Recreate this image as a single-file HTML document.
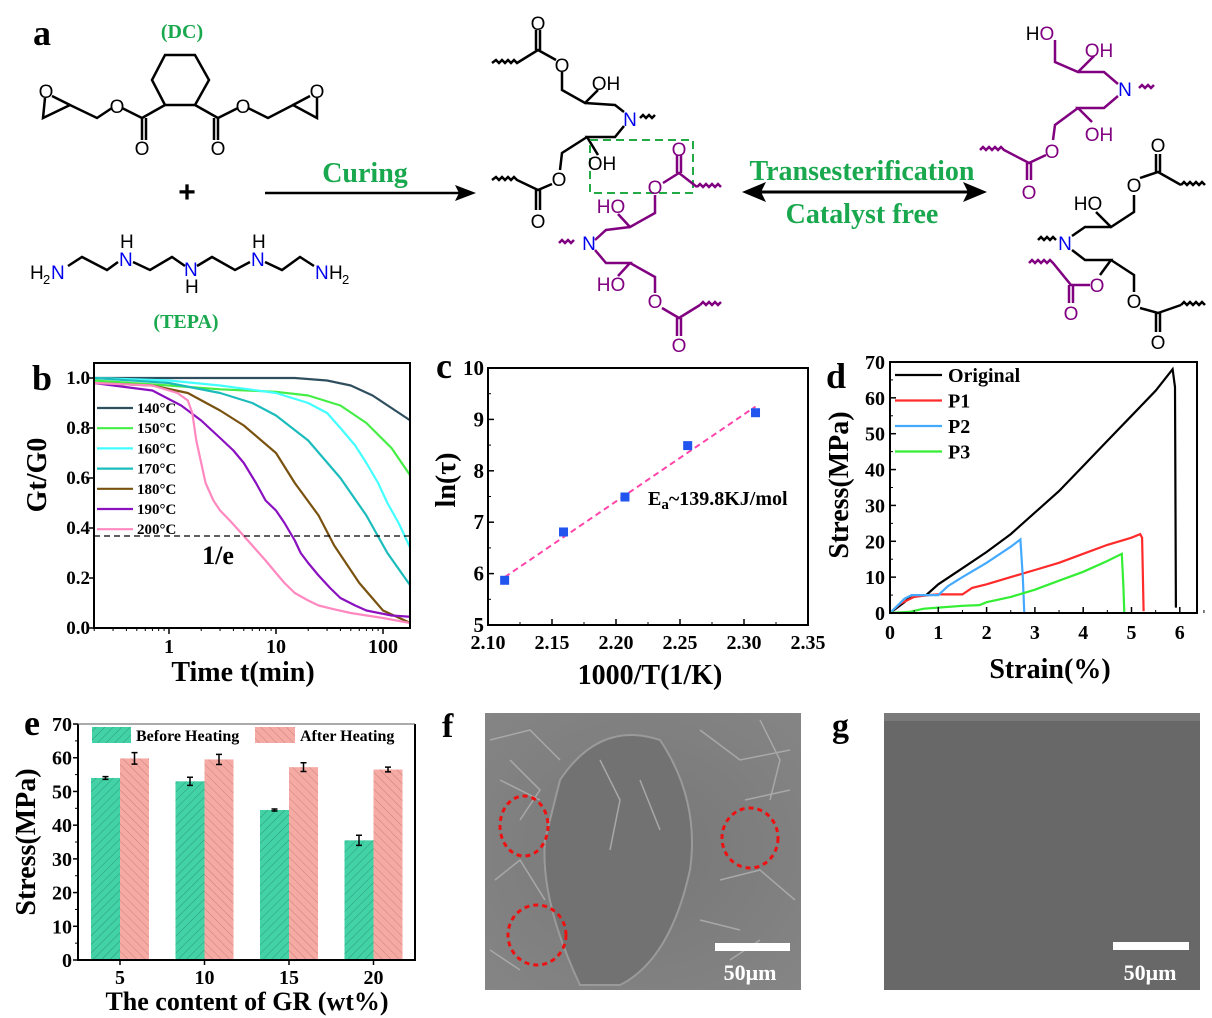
<!DOCTYPE html>
<html><head><meta charset="utf-8">
<style>
html,body{margin:0;padding:0;background:#fff;}
svg{display:block;font-family:"Liberation Serif",serif;}
.chem{font-family:"Liberation Sans",sans-serif;font-size:19px;}
</style></head>
<body>
<svg id="fig" width="1212" height="1018" viewBox="0 0 1212 1018" xmlns="http://www.w3.org/2000/svg">
<defs>
<pattern id="hatchG" patternUnits="userSpaceOnUse" width="6" height="6" patternTransform="rotate(45)"><rect width="6" height="6" fill="#43d1a6"/><line x1="0" y1="0" x2="0" y2="6" stroke="#2a9c7a" stroke-width="1"/></pattern>
<pattern id="hatchP" patternUnits="userSpaceOnUse" width="6" height="6" patternTransform="rotate(-45)"><rect width="6" height="6" fill="#f6aaa4"/><line x1="0" y1="0" x2="0" y2="6" stroke="#c9807c" stroke-width="1"/></pattern>
<radialGradient id="semf" cx="50%" cy="50%" r="70%"><stop offset="0" stop-color="#777"/><stop offset="1" stop-color="#858585"/></radialGradient>
</defs>

<!-- Panel a: chemistry -->
<g>
<text x="33" y="45" font-size="36" font-weight="bold">a</text>
<text x="182" y="38" font-size="20" font-weight="bold" fill="#1aa84f" text-anchor="middle">(DC)</text>
<g stroke="#000" stroke-width="2.5" fill="none">
<polygon points="165,55 195,55 209,80 195,105 165,105 152,80"/>
<polyline points="165,105 142,118 142,140"/><line x1="146" y1="118" x2="146" y2="140"/>
<polyline points="142,118 122,108"/><polyline points="112,108 97,118 70,105 43,118 45,98"/><line x1="70" y1="105" x2="52" y2="96"/>
<polyline points="195,105 218,118 218,140"/><line x1="214" y1="118" x2="214" y2="140"/>
<polyline points="218,118 238,108"/><polyline points="248,108 268,118 293,105 317,118 317,98"/><line x1="293" y1="105" x2="310" y2="96"/>
</g>
<g class="chem" text-anchor="middle">
<text x="142" y="155">O</text><text x="218" y="155">O</text><text x="117" y="113">O</text><text x="243" y="113">O</text><text x="46" y="98">O</text><text x="317" y="98">O</text>
</g>
<text x="187" y="202" font-size="30" font-weight="bold" text-anchor="middle" font-family="Liberation Sans,sans-serif">+</text>
<line x1="265" y1="193" x2="460" y2="193" stroke="#000" stroke-width="2.5"/>
<polygon points="476,193 455,185 459,193 455,201" fill="#000"/>
<text x="365" y="182" font-size="28" font-weight="bold" fill="#1aa84f" text-anchor="middle">Curing</text>
<g stroke="#000" stroke-width="2.5" fill="none">
<polyline points="68,266 82,257 107,270 118,262"/>
<polyline points="133,262 150,270 172,257 185,266"/>
<polyline points="197,266 212,257 235,270 250,262"/>
<polyline points="265,262 282,270 300,257 314,266"/>
</g>
<g class="chem">
<text x="30" y="279" fill="#000">H</text><text x="43" y="284" font-size="13">2</text><text x="51" y="279" fill="#0000ee">N</text>
<text x="119" y="266" fill="#0000ee">N</text><text x="120" y="248">H</text>
<text x="184" y="276" fill="#0000ee">N</text><text x="185" y="293">H</text>
<text x="251" y="266" fill="#0000ee">N</text><text x="252" y="248">H</text>
<text x="315" y="279" fill="#0000ee">N</text><text x="329" y="279">H</text><text x="342" y="284" font-size="13">2</text>
</g>
<text x="186" y="328" font-size="20" font-weight="bold" fill="#1aa84f" text-anchor="middle">(TEPA)</text>

<g stroke-width="2.5" fill="none">
<g stroke="#000">
<path d="M492,63 l4,-3 l3,3 l3,-3 l3,3 l3,-3 l3,3 l3,-3 l3,3 L538,50 L556,60"/>
<line x1="536" y1="50" x2="536" y2="30"/><line x1="540" y1="50" x2="540" y2="30"/>
<polyline points="562,72 562,90 585,103 598,90"/><polyline points="585,103 615,105 624,112"/>
<path d="M640,118 l3,-3 l3,3 l3,-3 l3,3 l3,-3"/>
<polyline points="624,126 615,137 587,137 598,155"/><polyline points="587,137 562,153 560,170"/>
<path d="M492,180 l4,-3 l3,3 l3,-3 l3,3 l3,-3 l3,3 l3,-3 l3,3 L538,190 L552,184"/>
<line x1="536" y1="190" x2="536" y2="210"/><line x1="540" y1="190" x2="540" y2="210"/>
</g>
<rect x="590" y="140" width="103" height="53" stroke="#22aa44" stroke-dasharray="8,5" stroke-width="2"/>
<g stroke="#800080">
<line x1="677" y1="173" x2="677" y2="155"/><line x1="681" y1="173" x2="681" y2="155"/>
<polyline points="663,183 679,173 697,187"/><path d="M697,187 l3,-3 l3,3 l3,-3 l3,3 l3,-3 l3,3 l3,-3 l3,3"/>
<polyline points="655,195 655,213 630,227 618,214"/><polyline points="630,227 606,230 595,240"/>
<path d="M559,243 l3,-3 l3,3 l3,-3 l3,3 l3,-3"/>
<polyline points="595,250 606,263 630,263 618,276"/><polyline points="630,263 655,277 655,293"/>
<polyline points="662,308 679,318 700,305"/><path d="M700,305 l3,-3 l3,3 l3,-3 l3,3 l3,-3 l3,3 l3,-3"/>
<line x1="677" y1="318" x2="677" y2="336"/><line x1="681" y1="318" x2="681" y2="336"/>
</g>
</g>
<g class="chem" text-anchor="middle">
<text x="538" y="30">O</text><text x="562" y="72">O</text><text x="606" y="90">OH</text><text x="630" y="126" fill="#0000ee">N</text>
<text x="602" y="170">OH</text><text x="559" y="186">O</text><text x="538" y="228">O</text>
<text x="679" y="156" fill="#800080">O</text><text x="655" y="194" fill="#800080">O</text><text x="611" y="213" fill="#800080">HO</text>
<text x="589" y="250" fill="#0000ee">N</text><text x="611" y="291" fill="#800080">HO</text><text x="655" y="308" fill="#800080">O</text><text x="679" y="352" fill="#800080">O</text>
</g>

<line x1="760" y1="192" x2="970" y2="192" stroke="#000" stroke-width="3"/>
<polygon points="742,192 766,182 761,192 766,202" fill="#000"/><polygon points="987,192 963,182 968,192 963,202" fill="#000"/>
<text x="862" y="180" font-size="28" font-weight="bold" fill="#1aa84f" text-anchor="middle">Transesterification</text>
<text x="862" y="223" font-size="28" font-weight="bold" fill="#1aa84f" text-anchor="middle">Catalyst free</text>

<g stroke-width="2.5" fill="none">
<g stroke="#800080">
<polyline points="1055,40 1055,62 1078,72 1094,56"/><polyline points="1078,72 1104,72 1118,84"/>
<path d="M1139,88 l3,-3 l3,3 l3,-3 l3,3 l3,-3"/>
<polyline points="1118,96 1104,108 1078,108 1092,122"/><polyline points="1078,108 1055,125 1053,140"/>
<path d="M980,150 l3,-3 l3,3 l3,-3 l3,3 l3,-3 l3,3 l3,-3 l3,3 L1029,163 L1046,155"/>
<line x1="1027" y1="163" x2="1027" y2="180"/><line x1="1031" y1="163" x2="1031" y2="180"/>
<path d="M1029,263 l3,-3 l3,3 l3,-3 l3,3 l3,-3 l3,3 l3,-3 l3,3 L1071,285 L1090,285"/>
<line x1="1069" y1="285" x2="1069" y2="303"/><line x1="1073" y1="285" x2="1073" y2="303"/>
</g>
<g stroke="#000">
<line x1="1156" y1="172" x2="1156" y2="154"/><line x1="1160" y1="172" x2="1160" y2="154"/>
<polyline points="1140,178 1158,172 1181,185"/><path d="M1181,185 l3,-3 l3,3 l3,-3 l3,3 l3,-3 l3,3 l3,-3 l3,3"/>
<polyline points="1134,195 1134,212 1111,227 1096,212"/><polyline points="1111,227 1085,227 1072,236"/>
<path d="M1038,240 l3,-3 l3,3 l3,-3 l3,3 l3,-3 l3,3"/>
<polyline points="1072,250 1085,260 1111,260 1100,275"/><polyline points="1111,260 1134,275 1134,292"/>
<polyline points="1140,308 1158,313 1181,305"/><path d="M1181,305 l3,-3 l3,3 l3,-3 l3,3 l3,-3 l3,3 l3,-3 l3,3"/>
<line x1="1156" y1="313" x2="1156" y2="332"/><line x1="1160" y1="313" x2="1160" y2="332"/>
</g>
</g>
<g class="chem" text-anchor="middle">
<text x="1040" y="40">H<tspan fill="#800080">O</tspan></text><text x="1099" y="57" fill="#800080">OH</text>
<text x="1125" y="96" fill="#0000ee">N</text><text x="1099" y="141" fill="#800080">OH</text>
<text x="1052" y="158" fill="#800080">O</text><text x="1029" y="199" fill="#800080">O</text>
<text x="1158" y="152">O</text><text x="1134" y="192">O</text><text x="1088" y="210">HO</text>
<text x="1065" y="250" fill="#0000ee">N</text><text x="1097" y="292" fill="#800080">O</text>
<text x="1134" y="308">O</text><text x="1071" y="320" fill="#800080">O</text><text x="1158" y="349">O</text>
</g>
</g>

<g>
<text x="442" y="737" font-size="34" font-weight="bold">f</text>
<rect x="485" y="713" width="316" height="277" fill="url(#semf)"/>
<path d="M560,780 Q600,720 660,740 Q700,800 690,870 Q670,960 620,985 L580,985 Q540,900 545,840 Z" fill="#727272" stroke="#9a9a9a" stroke-width="2"/>
<g stroke="#a8a8a8" stroke-width="1.5" fill="none">
<path d="M490,740 L530,730 L560,760"/><path d="M700,730 L740,760 L790,750"/><path d="M495,880 L520,860 L545,900"/><path d="M720,880 L760,870 L795,900"/><path d="M700,920 L740,930"/><path d="M500,780 L540,800"/><path d="M745,800 L790,790"/>
<path d="M510,760 L540,790 L520,820"/><path d="M760,720 L780,760 L770,800"/><path d="M490,950 L520,970"/><path d="M730,960 L760,940"/><path d="M600,760 L620,800 L610,850"/><path d="M640,780 L660,830"/>
</g>
<g stroke="#ee1111" stroke-width="3" stroke-dasharray="5,4" fill="none">
<ellipse cx="524" cy="826" rx="24" ry="30"/><ellipse cx="750" cy="838" rx="28" ry="30"/><ellipse cx="537" cy="935" rx="29" ry="30"/>
</g>
<rect x="715" y="943" width="75" height="8" fill="#fff"/>
<text x="750" y="980" font-size="22" font-weight="bold" fill="#fff" text-anchor="middle">50μm</text>
</g>
<g>
<text x="832" y="737" font-size="34" font-weight="bold">g</text>
<rect x="884" y="713" width="316" height="277" fill="#686868"/>
<rect x="884" y="713" width="316" height="8" fill="#7a7a7a"/>
<rect x="1113" y="942" width="76" height="8" fill="#fff"/>
<text x="1150" y="980" font-size="22" font-weight="bold" fill="#fff" text-anchor="middle">50μm</text>
</g>

<g id="charts"></g>
</svg>

<script>
const bTemps = ['140°C','150°C','160°C','170°C','180°C','190°C','200°C'];
const bColors = ['#2f4f5f','#44ee44','#44ffff','#1cbcbc','#7a5210','#8a10c0','#ff88c0'];
const bTimes140 = [0.2,1,10,15,30,50,80,120,180];
const bVals140  = [1.0,1.0,1.0,1.0,0.99,0.97,0.93,0.88,0.83];
const bTimes150 = [0.2,1,3,10,20,40,70,120,180];
const bVals150  = [0.99,0.97,0.955,0.945,0.93,0.89,0.82,0.72,0.61];
const bTimes160 = [0.2,1,3,10,20,30,40,55,70,90,110,140,180];
const bVals160  = [1.0,0.99,0.97,0.94,0.90,0.86,0.80,0.73,0.66,0.58,0.50,0.42,0.32];
const bTimes170 = [0.2,1,3,6,10,20,40,70,110,180];
const bVals170  = [1.0,0.98,0.94,0.90,0.85,0.75,0.60,0.45,0.30,0.17];
const bTimes180 = [0.2,0.7,1.5,3,5,10,15,25,35,60,100,180];
const bVals180  = [0.98,0.97,0.94,0.87,0.81,0.70,0.58,0.45,0.33,0.18,0.07,0.02];
const bTimes190 = [0.2,0.7,1.3,2,3,4,5,6.5,8,10,12,15,17,20,25,32,40,55,70,120,180];
const bVals190  = [0.98,0.95,0.89,0.83,0.76,0.71,0.66,0.58,0.51,0.47,0.42,0.35,0.30,0.26,0.21,0.16,0.12,0.09,0.07,0.05,0.045];
const bTimes200 = [0.2,0.7,1.2,1.5,1.65,1.8,2.0,2.2,2.6,3,3.7,4.5,6,8,10,12,15,20,25,35,50,100,180];
const bVals200  = [0.98,0.97,0.94,0.91,0.86,0.75,0.66,0.58,0.51,0.47,0.43,0.39,0.33,0.27,0.22,0.18,0.14,0.11,0.09,0.075,0.06,0.04,0.02];
const bYTicks = [0,0.2,0.4,0.6,0.8,1.0];
const bXTicks = [1,10,100];
const bThreshold = 0.368;
const cX = [2.113,2.159,2.207,2.256,2.309];
const cY = [5.87,6.81,7.49,8.49,9.13];
const cFitX = [2.113,2.309];
const cFitY = [5.93,9.25];
const cXTicks = [2.10,2.15,2.20,2.25,2.30,2.35];
const cYTicks = [5,6,7,8,9,10];
const dNames = ['Original','P1','P2','P3'];
const dColors = ['#000000','#ff2a2a','#44aaff','#33ee33'];
const dStrainO = [0,0.3,0.45,0.75,1,1.5,2,2.5,3,3.5,4,4.5,5,5.5,5.85,5.9,5.92];
const dStressO = [0,3,5,5,8,12.5,17,22,28,34,41,48,55,62,68,63,1.5];
const dStrainP1 = [0,0.2,0.5,0.8,1.0,1.5,1.7,2,2.5,3,3.5,4,4.5,5,5.18,5.22,5.25];
const dStressP1 = [0,2.5,4.5,5,5.2,5.2,7,8,10,12,14,16.5,19,21,22,21,0.5];
const dStrainP2 = [0,0.3,0.45,1,1.2,1.5,2,2.5,2.7,2.75,2.78];
const dStressP2 = [0,4,5,5,7.5,10,14,18.5,20.5,10,0];
const dStrainP3 = [0,0.4,0.7,1,1.5,1.85,2,2.5,3,3.5,4,4.5,4.8,4.83,4.85];
const dStressP3 = [0,0.3,1.2,1.5,2,2.2,3,4.5,6.5,9,11.5,14.5,16.5,8,0.3];
const dXTicks = [0,1,2,3,4,5,6];
const dYTicks = [0,10,20,30,40,50,60,70];
const eCats = ['5','10','15','20'];
const eBefore = [54,53,44.5,35.5];
const eBeforeErr = [0.4,1.2,0.3,1.5];
const eAfter = [59.8,59.5,57.2,56.5];
const eAfterErr = [1.7,1.5,1.3,0.7];
const eYTicks = [0,10,20,30,40,50,60,70];

const NS='http://www.w3.org/2000/svg';
const root=document.getElementById('charts');
function el(tag,attrs,parent){const e=document.createElementNS(NS,tag);for(const k in attrs)e.setAttribute(k,attrs[k]);(parent||root).appendChild(e);return e;}
function txt(x,y,s,size,anchor,parent,extra){const t=el('text',Object.assign({x:x,y:y,'font-size':size,'font-weight':'bold','text-anchor':anchor||'middle'},extra||{}),parent);t.textContent=s;return t;}
function pts(xs,ys,fx,fy){return xs.map((v,i)=>fx(v).toFixed(1)+','+fy(ys[i]).toFixed(1)).join(' ');}

(function(){
const g=el('g',{});


const L=94,R=410,T=363,B=628;
const xb=t=>169+107*Math.log10(t), yb=v=>628-250*v;
const lab=txt(32,390,'b',36,'start',g);


const series=[[bTimes140,bVals140],[bTimes150,bVals150],[bTimes160,bVals160],[bTimes170,bVals170],[bTimes180,bVals180],[bTimes190,bVals190],[bTimes200,bVals200]];
const cp=el('clipPath',{id:'clipb'},g);el('rect',{x:L,y:T,width:R-L,height:B-T},cp);
series.forEach((s,i)=>{
 const p=el('polyline',{points:pts(s[0],s[1],xb,yb),fill:'none',stroke:bColors[i],'stroke-width':2.2,'stroke-linejoin':'round','clip-path':'url(#clipb)'},g);
 
 
});
const th=el('line',{x1:L,x2:R,y1:yb(bThreshold),y2:yb(bThreshold),stroke:'#000','stroke-width':1.3,'stroke-dasharray':'6,4'},g);


const et=txt(218,564,'1/e',26,'middle',g);


const box=el('rect',{x:L,y:T,width:R-L,height:B-T,fill:'none',stroke:'#000','stroke-width':2},g);


bYTicks.forEach(v=>{el('line',{x1:L-5,x2:L,y1:yb(v),y2:yb(v),stroke:'#000','stroke-width':1.5},g);
 const t=txt(L-4,yb(v)+6,v.toFixed(1),19,'end',g);
 
 });
for(let d=-1;d<=2;d++)for(let m=2;m<=9;m++){const t=m*Math.pow(10,d);const x=xb(t);if(x>L&&x<R)el('line',{x1:x,x2:x,y1:B,y2:B+3,stroke:'#000','stroke-width':1},g);}
bXTicks.forEach(v=>{el('line',{x1:xb(v),x2:xb(v),y1:B,y2:B+6,stroke:'#000','stroke-width':1.5},g);
 const t=txt(xb(v),653,String(v),20,'middle',g);
 
 });
const yt=txt(0,0,'Gt/G0',28,'middle',g,{transform:'translate(46,475) rotate(-90)'});


const xt=txt(243,681,'Time t(min)',28,'middle',g);


bTemps.forEach((n,i)=>{const y=408+i*20.2;
 const li=el('line',{x1:97,x2:133,y1:y,y2:y,stroke:bColors[i],'stroke-width':2.2},g);
 
 
 const t=txt(137,y+5,n,15,'start',g);
 
 });
})();

(function(){
const g=el('g',{});


const L=488,R=808,T=368,B=625;
const xc=v=>L+(v-2.10)*1280, yc=v=>B-(v-5)*51.4;
const lab=txt(436,378,'c',36,'start',g);


const f=el('line',{x1:xc(cFitX[0]),y1:yc(cFitY[0]),x2:xc(cFitX[1]),y2:yc(cFitY[1]),stroke:'#ff44aa','stroke-width':2,'stroke-dasharray':'6,4'},g);


cX.forEach((v,i)=>{const r=el('rect',{x:xc(v)-4.5,y:yc(cY[i])-4.5,width:9,height:9,fill:'#2255ee'},g);
 
 });
const ea=el('text',{x:648,y:505,'font-size':20,'font-weight':'bold'},g);
ea.innerHTML='E<tspan font-size="15" dy="4">a</tspan><tspan dy="-4">~139.8KJ/mol</tspan>';


const box=el('rect',{x:L,y:T,width:R-L,height:B-T,fill:'none',stroke:'#000','stroke-width':2},g);


cYTicks.forEach(v=>{el('line',{x1:L,x2:L+6,y1:yc(v),y2:yc(v),stroke:'#000','stroke-width':1.5},g);
 if(v<10)el('line',{x1:L,x2:L+3,y1:yc(v+0.5),y2:yc(v+0.5),stroke:'#000','stroke-width':1},g);
 const t=txt(L-4,yc(v)+7,String(v),21,'end',g);
 
 });
cXTicks.forEach(v=>{el('line',{x1:xc(v),x2:xc(v),y1:B,y2:B-6,stroke:'#000','stroke-width':1.5},g);
 if(v<2.35)el('line',{x1:xc(v+0.025),x2:xc(v+0.025),y1:B,y2:B-3,stroke:'#000','stroke-width':1},g);
 const t=txt(xc(v),649,v.toFixed(2),20,'middle',g);
 
 });
const yt=txt(0,0,'ln(τ)',28,'middle',g,{transform:'translate(455,480) rotate(-90)'});


const xt=txt(650,684,'1000/T(1/K)',28,'middle',g);


})();

(function(){
const g=el('g',{});


const L=890,R=1197,T=362,B=613;
const xd=v=>L+v*48.3, yd=v=>B-v*3.586;
const lab=txt(826,388,'d',36,'start',g);


const series=[[dStrainO,dStressO],[dStrainP1,dStressP1],[dStrainP2,dStressP2],[dStrainP3,dStressP3]];
series.forEach((s,i)=>{const p=el('polyline',{points:pts(s[0],s[1],xd,yd),fill:'none',stroke:dColors[i],'stroke-width':2.2},g);
 
 });
const box=el('rect',{x:L,y:T,width:R-L,height:B-T,fill:'none',stroke:'#000','stroke-width':2},g);


dYTicks.forEach(v=>{el('line',{x1:L,x2:L+6,y1:yd(v),y2:yd(v),stroke:'#000','stroke-width':1.5},g);
 if(v<70)el('line',{x1:L,x2:L+3,y1:yd(v+5),y2:yd(v+5),stroke:'#000','stroke-width':1},g);
 const t=txt(L-5,yd(v)+7,String(v),20,'end',g);
 
 });
dXTicks.forEach(v=>{el('line',{x1:xd(v),x2:xd(v),y1:B,y2:B-6,stroke:'#000','stroke-width':1.5},g);
 el('line',{x1:xd(v+0.5),x2:xd(v+0.5),y1:B,y2:B-3,stroke:'#000','stroke-width':1},g);
 const t=txt(xd(v),639,String(v),20,'middle',g);
 
 });
const yt=txt(0,0,'Stress(MPa)',28,'middle',g,{transform:'translate(848,485) rotate(-90)'});


const xt=txt(1050,678,'Strain(%)',28,'middle',g);


dNames.forEach((n,i)=>{const y=375+i*25.5;
 const li=el('line',{x1:895,x2:942,y1:y,y2:y,stroke:dColors[i],'stroke-width':2.2},g);
 
 
 const t=txt(948,y+7,n,20,'start',g);
 
 });
})();

(function(){
const g=el('g',{});


const L=78,R=415,T=724,B=960;
const ye=v=>B-v*3.371, xe=i=>120+i*84.5, bw=29;
const lab=txt(24,735,'e',36,'start',g);


eCats.forEach((c,i)=>{
 const b1=el('rect',{x:xe(i)-bw,y:ye(eBefore[i]),width:bw,height:B-ye(eBefore[i]),fill:'url(#hatchG)'},g);
 
 
 const b2=el('rect',{x:xe(i),y:ye(eAfter[i]),width:bw,height:B-ye(eAfter[i]),fill:'url(#hatchP)'},g);
 
 
 [[xe(i)-bw/2,eBefore[i],eBeforeErr[i]],[xe(i)+bw/2,eAfter[i],eAfterErr[i]]].forEach(a=>{
  const eb=el('path',{d:`M${a[0]},${ye(a[1]+a[2])}V${ye(a[1]-a[2])}M${a[0]-3},${ye(a[1]+a[2])}h6M${a[0]-3},${ye(a[1]-a[2])}h6`,stroke:'#000','stroke-width':1.5,fill:'none'},g);
  
  });
 el('line',{x1:xe(i),x2:xe(i),y1:B,y2:B+5,stroke:'#000','stroke-width':1.5},g);
 const t=txt(xe(i),984,c,20,'middle',g);
 
 
});
const box=el('path',{d:`M${L},${T}V${B}H${R}V${T}`,fill:'none',stroke:'#000','stroke-width':2},g);


el('line',{x1:L,x2:R,y1:T,y2:T,stroke:'#555','stroke-width':1},g);
eYTicks.forEach(v=>{el('line',{x1:L-5,x2:L,y1:ye(v),y2:ye(v),stroke:'#000','stroke-width':1.5},g);
 if(v<70)el('line',{x1:L-3,x2:L,y1:ye(v+5),y2:ye(v+5),stroke:'#000','stroke-width':1},g);
 const t=txt(L-6,ye(v)+7,String(v),20,'end',g);
 
 });
const yt=txt(0,0,'Stress(MPa)',28,'middle',g,{transform:'translate(35,842) rotate(-90)'});


const xt=txt(247,1010,'The content of GR (wt%)',26,'middle',g);


const s1=el('rect',{x:92,y:727,width:39,height:16,fill:'url(#hatchG)'},g);


const l1=txt(136,741,'Before Heating',16,'start',g);


const s2=el('rect',{x:255,y:727,width:40,height:16,fill:'url(#hatchP)'},g);


const l2=txt(300,741,'After Heating',16,'start',g);


})();
</script>
</body></html>
